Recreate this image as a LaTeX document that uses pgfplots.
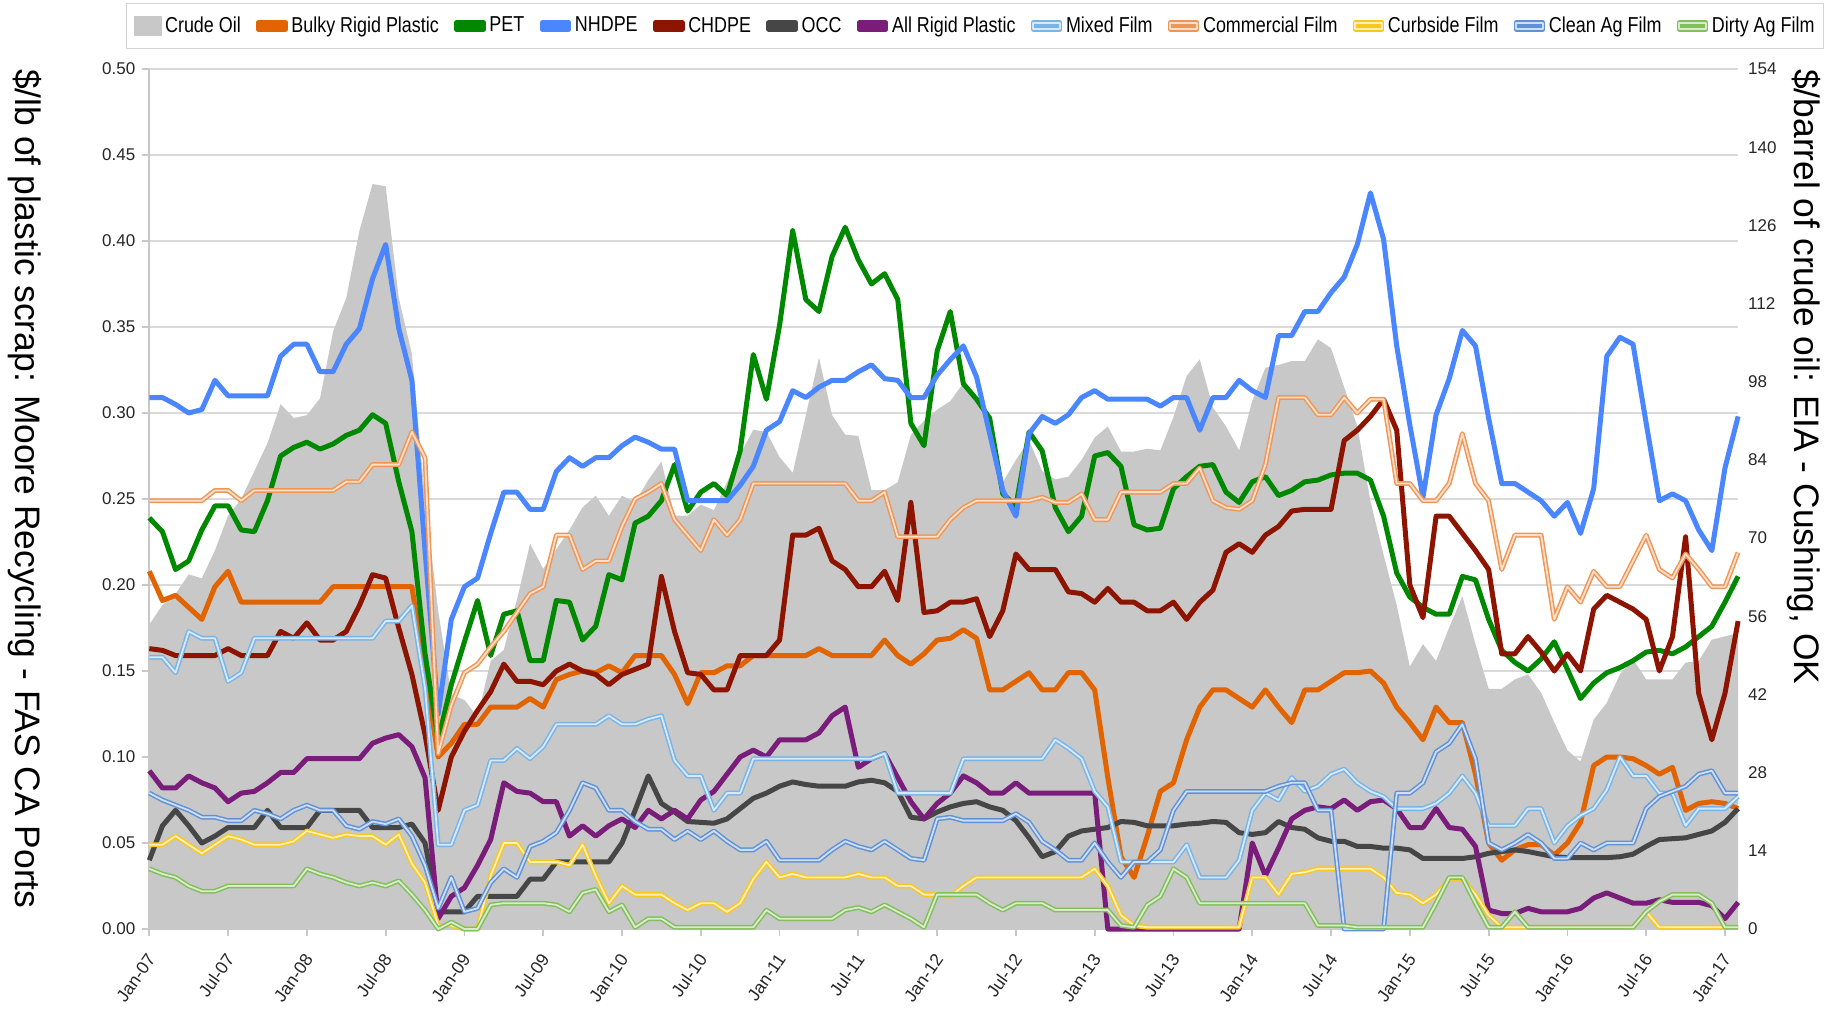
\documentclass[border=0pt]{standalone}
\usepackage{pgfplots}
\usepackage{pgfplotstable}
\pgfplotsset{compat=1.18}
\usepackage{fontspec}
\setmainfont{Liberation Sans}
\newfontfamily\narrowfont[FakeStretch=0.83]{Liberation Sans}
\newcommand\ticksize{\fontsize{8.5}{10}\selectfont}

\definecolor{crude}{RGB}{200,200,200}
\definecolor{bulky}{RGB}{226,100,0}
\definecolor{pet}{RGB}{0,136,0}
\definecolor{nhdpe}{RGB}{74,134,255}
\definecolor{chdpe}{RGB}{140,20,0}
\definecolor{occ}{RGB}{70,70,70}
\definecolor{allrig}{RGB}{122,28,122}
\definecolor{mixed}{RGB}{120,180,230}
\definecolor{comm}{RGB}{240,150,85}
\definecolor{curb}{RGB}{248,200,30}
\definecolor{clean}{RGB}{95,145,215}
\definecolor{dirty}{RGB}{130,190,90}
\definecolor{gridgray}{RGB}{218,218,218}
\definecolor{axisgray}{RGB}{200,200,200}

\pgfplotstableread{
m crude bulky pet nhdpe chdpe occ allrig mixed comm curb clean dirty
0 54.5 0.208 0.239 0.309 0.163 0.040 0.092 0.158 0.249 0.049 0.079 0.035
1 58 0.191 0.231 0.309 0.162 0.060 0.082 0.158 0.249 0.049 0.075 0.032
2 60 0.194 0.209 0.305 0.159 0.069 0.082 0.149 0.249 0.054 0.072 0.030
3 63.5 0.187 0.214 0.300 0.159 0.060 0.089 0.173 0.249 0.049 0.069 0.025
4 62.8 0.180 0.232 0.302 0.159 0.050 0.085 0.169 0.249 0.044 0.065 0.022
5 67.8 0.199 0.246 0.319 0.159 0.054 0.082 0.169 0.255 0.049 0.065 0.022
6 74 0.208 0.246 0.310 0.163 0.059 0.074 0.144 0.255 0.054 0.063 0.025
7 77 0.190 0.232 0.310 0.159 0.059 0.079 0.149 0.249 0.052 0.063 0.025
8 82 0.190 0.231 0.310 0.159 0.059 0.080 0.169 0.255 0.049 0.069 0.025
9 87 0.190 0.249 0.310 0.159 0.069 0.085 0.169 0.255 0.049 0.067 0.025
10 94 0.190 0.275 0.333 0.173 0.059 0.091 0.169 0.255 0.049 0.064 0.025
11 91.5 0.190 0.280 0.340 0.169 0.059 0.091 0.169 0.255 0.051 0.069 0.025
12 92 0.190 0.283 0.340 0.178 0.059 0.099 0.169 0.255 0.057 0.072 0.035
13 95 0.190 0.279 0.324 0.168 0.069 0.099 0.169 0.255 0.055 0.069 0.032
14 107 0.199 0.282 0.324 0.168 0.069 0.099 0.169 0.255 0.053 0.069 0.030
15 113 0.199 0.287 0.340 0.173 0.069 0.099 0.169 0.260 0.055 0.060 0.027
16 125 0.199 0.290 0.349 0.188 0.069 0.099 0.169 0.260 0.054 0.058 0.025
17 133.4 0.199 0.299 0.378 0.206 0.059 0.108 0.169 0.270 0.054 0.0625 0.027
18 133 0.199 0.294 0.398 0.204 0.059 0.111 0.179 0.270 0.049 0.061 0.025
19 113 0.199 0.260 0.349 0.175 0.059 0.113 0.179 0.270 0.055 0.064 0.028
20 103 0.199 0.231 0.319 0.148 0.061 0.106 0.188 0.289 0.038 0.054 0.020
21 77 0.150 0.160 0.220 0.113 0.050 0.088 0.140 0.274 0.027 0.037 0.011
22 57 0.100 0.110 0.125 0.069 0.010 0.006 0.049 0.102 0.002 0.012 0.000
23 42 0.108 0.142 0.180 0.100 0.010 0.019 0.049 0.130 0.002 0.030 0.004
24 41 0.119 0.167 0.199 0.115 0.010 0.024 0.069 0.149 0.000 0.010 0.000
25 38 0.119 0.191 0.204 0.127 0.019 0.037 0.072 0.154 0.000 0.012 0.000
26 48 0.129 0.159 0.230 0.138 0.019 0.052 0.098 0.164 0.031 0.027 0.014
27 50 0.129 0.183 0.254 0.154 0.019 0.085 0.098 0.173 0.050 0.035 0.015
28 59 0.129 0.185 0.254 0.144 0.019 0.080 0.105 0.184 0.050 0.030 0.015
29 69 0.134 0.156 0.244 0.144 0.029 0.079 0.099 0.195 0.039 0.048 0.015
30 64.5 0.129 0.156 0.244 0.142 0.029 0.074 0.106 0.199 0.039 0.051 0.015
31 68 0.145 0.191 0.266 0.150 0.039 0.074 0.119 0.229 0.039 0.056 0.014
32 71.5 0.148 0.190 0.274 0.154 0.039 0.054 0.119 0.229 0.037 0.069 0.010
33 75.5 0.150 0.168 0.269 0.150 0.039 0.060 0.119 0.209 0.049 0.085 0.021
34 77.6 0.149 0.176 0.274 0.148 0.039 0.054 0.119 0.214 0.031 0.082 0.023
35 74 0.153 0.206 0.274 0.142 0.039 0.060 0.124 0.214 0.015 0.069 0.010
36 77.6 0.149 0.203 0.281 0.148 0.050 0.064 0.119 0.234 0.025 0.069 0.014
37 76.4 0.159 0.236 0.286 0.151 0.069 0.059 0.119 0.250 0.020 0.0625 0.001
38 80.4 0.159 0.240 0.283 0.154 0.089 0.069 0.122 0.254 0.020 0.058 0.006
39 83.7 0.159 0.249 0.279 0.205 0.073 0.064 0.124 0.259 0.020 0.058 0.006
40 74 0.148 0.270 0.279 0.173 0.068 0.069 0.098 0.238 0.015 0.052 0.001
41 74 0.131 0.243 0.249 0.149 0.0625 0.064 0.089 0.229 0.011 0.057 0.001
42 76 0.149 0.254 0.249 0.148 0.062 0.075 0.089 0.220 0.015 0.052 0.001
43 75 0.149 0.259 0.249 0.139 0.0615 0.080 0.069 0.238 0.015 0.057 0.001
44 80 0.153 0.252 0.249 0.139 0.064 0.090 0.079 0.229 0.010 0.051 0.001
45 85 0.153 0.278 0.258 0.159 0.070 0.100 0.079 0.238 0.015 0.046 0.001
46 89.4 0.159 0.334 0.269 0.159 0.076 0.104 0.099 0.259 0.029 0.046 0.001
47 89 0.159 0.308 0.290 0.159 0.079 0.100 0.099 0.259 0.039 0.051 0.011
48 84.5 0.159 0.351 0.295 0.168 0.083 0.110 0.099 0.259 0.030 0.040 0.006
49 81.7 0.159 0.406 0.313 0.229 0.0855 0.110 0.099 0.259 0.032 0.040 0.006
50 92 0.159 0.366 0.309 0.229 0.084 0.110 0.099 0.259 0.030 0.040 0.006
51 102.3 0.163 0.359 0.315 0.233 0.083 0.114 0.099 0.259 0.030 0.040 0.006
52 92 0.159 0.391 0.319 0.214 0.083 0.124 0.099 0.259 0.030 0.046 0.006
53 88.5 0.159 0.408 0.319 0.209 0.083 0.129 0.099 0.259 0.030 0.051 0.011
54 88.3 0.159 0.389 0.324 0.199 0.0855 0.094 0.099 0.249 0.032 0.048 0.0125
55 78.6 0.159 0.375 0.328 0.199 0.0865 0.099 0.099 0.249 0.030 0.046 0.010
56 78.6 0.168 0.381 0.320 0.208 0.085 0.102 0.102 0.254 0.030 0.051 0.014
57 80 0.159 0.366 0.319 0.191 0.080 0.088 0.079 0.228 0.025 0.046 0.010
58 88.5 0.154 0.294 0.309 0.248 0.065 0.074 0.079 0.228 0.025 0.041 0.006
59 91 0.160 0.281 0.309 0.184 0.064 0.064 0.079 0.228 0.020 0.040 0.001
60 93 0.168 0.336 0.322 0.185 0.068 0.073 0.079 0.228 0.020 0.064 0.020
61 94.5 0.169 0.359 0.331 0.190 0.071 0.079 0.079 0.238 0.019 0.065 0.020
62 97.8 0.174 0.317 0.339 0.190 0.073 0.089 0.099 0.245 0.025 0.063 0.020
63 95 0.169 0.308 0.321 0.192 0.074 0.085 0.099 0.249 0.030 0.063 0.020
64 90 0.139 0.297 0.288 0.170 0.071 0.079 0.099 0.249 0.030 0.063 0.015
65 80 0.139 0.253 0.255 0.185 0.069 0.079 0.099 0.249 0.030 0.063 0.011
66 84 0.144 0.246 0.240 0.218 0.063 0.085 0.099 0.249 0.030 0.067 0.015
67 87.5 0.149 0.289 0.288 0.209 0.053 0.079 0.099 0.249 0.030 0.062 0.015
68 82 0.139 0.278 0.298 0.209 0.042 0.079 0.099 0.251 0.030 0.051 0.015
69 80.5 0.139 0.245 0.294 0.209 0.045 0.079 0.110 0.248 0.030 0.046 0.011
70 81 0.149 0.231 0.299 0.196 0.054 0.079 0.105 0.248 0.030 0.040 0.011
71 84 0.149 0.240 0.309 0.195 0.057 0.079 0.099 0.253 0.030 0.040 0.011
72 88 0.139 0.275 0.313 0.190 0.058 0.079 0.080 0.238 0.035 0.050 0.011
73 90 0.088 0.277 0.308 0.198 0.059 0.000 0.071 0.238 0.025 0.039 0.011
74 85.5 0.042 0.269 0.308 0.190 0.0625 0.000 0.039 0.254 0.008 0.030 0.002
75 85.5 0.030 0.235 0.308 0.190 0.062 0.000 0.039 0.254 0.002 0.039 0.001
76 86 0.054 0.232 0.308 0.185 0.060 0.000 0.039 0.254 0.001 0.039 0.014
77 85.7 0.080 0.233 0.304 0.185 0.060 0.000 0.039 0.254 0.001 0.046 0.019
78 91.7 0.085 0.256 0.309 0.190 0.060 0.000 0.039 0.259 0.001 0.069 0.035
79 99 0.110 0.263 0.309 0.180 0.061 0.000 0.049 0.259 0.001 0.080 0.030
80 102 0.129 0.269 0.290 0.190 0.0615 0.000 0.030 0.268 0.001 0.080 0.015
81 93.4 0.139 0.270 0.309 0.197 0.0625 0.000 0.030 0.249 0.001 0.080 0.015
82 90 0.139 0.254 0.309 0.219 0.062 0.000 0.030 0.245 0.001 0.080 0.015
83 85.7 0.134 0.248 0.319 0.224 0.056 0.000 0.040 0.244 0.001 0.080 0.015
84 94.6 0.129 0.260 0.313 0.219 0.055 0.050 0.069 0.249 0.030 0.080 0.015
85 100.5 0.139 0.263 0.309 0.229 0.056 0.031 0.079 0.270 0.030 0.080 0.015
86 101 0.129 0.252 0.345 0.234 0.0625 0.047 0.075 0.309 0.020 0.083 0.015
87 101.7 0.120 0.255 0.345 0.243 0.059 0.064 0.088 0.309 0.032 0.085 0.015
88 101.7 0.139 0.260 0.359 0.244 0.058 0.069 0.080 0.309 0.033 0.085 0.015
89 105.6 0.139 0.261 0.359 0.244 0.053 0.071 0.083 0.299 0.035 0.069 0.002
90 104 0.144 0.264 0.370 0.244 0.051 0.070 0.090 0.299 0.035 0.069 0.002
91 97 0.149 0.265 0.379 0.284 0.051 0.075 0.093 0.309 0.035 0.000 0.002
92 90 0.149 0.265 0.398 0.290 0.048 0.069 0.085 0.300 0.035 0.000 0.001
93 76.6 0.150 0.261 0.428 0.298 0.048 0.074 0.080 0.308 0.035 0.000 0.001
94 67 0.143 0.240 0.401 0.308 0.047 0.075 0.077 0.308 0.030 0.000 0.001
95 58 0.129 0.207 0.339 0.290 0.047 0.070 0.070 0.259 0.021 0.079 0.001
96 47 0.120 0.193 0.293 0.200 0.046 0.059 0.070 0.259 0.020 0.079 0.001
97 51 0.110 0.187 0.251 0.181 0.041 0.059 0.070 0.249 0.015 0.085 0.001
98 48 0.129 0.183 0.299 0.240 0.041 0.070 0.073 0.249 0.020 0.103 0.015
99 54 0.120 0.183 0.320 0.240 0.041 0.059 0.079 0.259 0.029 0.108 0.030
100 59.6 0.120 0.205 0.348 0.230 0.041 0.058 0.089 0.288 0.029 0.119 0.030
101 51 0.090 0.203 0.339 0.220 0.042 0.048 0.079 0.259 0.020 0.099 0.015
102 43 0.050 0.180 0.297 0.209 0.044 0.011 0.060 0.249 0.008 0.050 0.001
103 43 0.040 0.162 0.259 0.160 0.045 0.009 0.060 0.209 0.001 0.046 0.001
104 44.7 0.046 0.155 0.259 0.160 0.046 0.009 0.060 0.229 0.001 0.050 0.010
105 45.6 0.049 0.150 0.254 0.170 0.045 0.012 0.070 0.229 0.001 0.055 0.001
106 42.3 0.049 0.157 0.249 0.161 0.0435 0.010 0.070 0.229 0.001 0.050 0.001
107 37 0.043 0.167 0.240 0.150 0.042 0.010 0.050 0.180 0.001 0.041 0.001
108 32 0.050 0.151 0.248 0.160 0.0415 0.010 0.060 0.199 0.001 0.041 0.001
109 30 0.062 0.134 0.230 0.150 0.0415 0.012 0.066 0.190 0.001 0.050 0.001
110 37.5 0.095 0.143 0.256 0.186 0.0415 0.018 0.070 0.208 0.001 0.046 0.001
111 40.5 0.100 0.149 0.333 0.194 0.0415 0.021 0.081 0.199 0.001 0.050 0.001
112 45.6 0.100 0.152 0.344 0.190 0.042 0.018 0.100 0.199 0.001 0.050 0.001
113 48.3 0.099 0.156 0.340 0.186 0.0435 0.015 0.089 0.214 0.001 0.050 0.001
114 44.7 0.095 0.161 0.294 0.180 0.048 0.015 0.089 0.229 0.010 0.070 0.010
115 44.7 0.090 0.162 0.249 0.150 0.052 0.017 0.079 0.209 0.001 0.077 0.016
116 44.7 0.094 0.160 0.253 0.170 0.0525 0.0155 0.079 0.204 0.001 0.080 0.020
117 47.7 0.069 0.164 0.249 0.228 0.053 0.0155 0.060 0.218 0.001 0.083 0.020
118 48 0.073 0.170 0.232 0.137 0.055 0.0155 0.070 0.209 0.001 0.090 0.020
119 51.8 0.074 0.176 0.220 0.110 0.057 0.0135 0.070 0.199 0.001 0.092 0.015
120 52.4 0.073 0.190 0.268 0.137 0.062 0.006 0.070 0.199 0.001 0.079 0.001
121 53 0.070 0.205 0.298 0.179 0.070 0.0155 0.077 0.219 0.001 0.079 0.001
}\data

\pgfplotsset{
  thick line/.style={line width=2.5pt, line join=round},
  dbl line/.style={line width=0.75pt, double distance=0.9pt, line join=round},
}

\begin{document}
\begin{tikzpicture}
\useasboundingbox (-74.65pt,-41.5pt) rectangle (840.85pt,464.5pt);

% crude oil (right axis) drawn first so it sits under the lines
\begin{axis}[
  at={(0pt,0pt)}, anchor=south west,
  scale only axis, width=794.4pt, height=430pt,
  xmin=0, xmax=121, ymin=0, ymax=154,
  axis x line=none, xtick=\empty,
  axis y line*=right,
  y axis line style={draw=none},
  ytick={0,14,28,42,56,70,84,98,112,126,140,154},
  major tick length=0pt,
  /pgf/number format/assume math mode=true,
  yticklabel style={font=\ticksize, text=black!85, xshift=1.5pt},
  extra y ticks={15.4,30.8,46.2,61.6,77,92.4,107.8,123.2,138.6,154},
  extra y tick labels={},
  extra y tick style={grid=major, major grid style={draw=gridgray, line width=0.9pt}},
  ylabel={\$/barrel of crude oil: EIA - Cushing, OK},
  every axis y label/.style={at={(axis description cs:1.0413,1.008)}, rotate=-90, anchor=west, font=\fontsize{17.7}{20}\selectfont},
]
\addplot[fill=crude, draw=none] table[x=m, y=crude] {\data} \closedcycle;
\end{axis}

\begin{axis}[
  at={(0pt,0pt)}, anchor=south west,
  scale only axis, width=794.4pt, height=430pt,
  xmin=0, xmax=121, ymin=0, ymax=0.5,
  clip=false,
  axis x line*=bottom, axis y line*=left,
  axis line style={draw=axisgray, line width=0.9pt, -},
  tick align=outside,
  major tick length=3.5pt,
  every tick/.style={draw=axisgray, line width=0.9pt},
  xtick={0,6,...,120},
  xticklabels={Jan-07,Jul-07,Jan-08,Jul-08,Jan-09,Jul-09,Jan-10,Jul-10,Jan-11,Jul-11,Jan-12,Jul-12,Jan-13,Jul-13,Jan-14,Jul-14,Jan-15,Jul-15,Jan-16,Jul-16,Jan-17},
  xticklabel style={yshift=-7pt, xshift=3pt, rotate=55, anchor=east, font=\fontsize{8.8}{10}\selectfont, text=black!85},
  ytick={0,0.05,0.1,0.15,0.2,0.25,0.3,0.35,0.4,0.45,0.5},
  /pgf/number format/assume math mode=true,
  yticklabel style={font=\ticksize, text=black!85, /pgf/number format/.cd, fixed, fixed zerofill, precision=2},
  ylabel={\$/lb of plastic scrap: Moore Recycling - FAS CA Ports},
  every axis y label/.style={at={(axis description cs:-0.0785,1.008)}, rotate=-90, anchor=west, font=\fontsize{17.7}{20}\selectfont},
  legend columns=-1,
  legend style={at={(axis description cs:0.5197,1.05)}, anchor=center,
    draw={rgb,255:red,212;green,212;blue,212}, fill=white,
    font=\narrowfont\fontsize{10.8}{13}\selectfont,
    inner xsep=3.5pt, inner ysep=4.5pt,
    nodes={inner xsep=0.8pt},
    /tikz/every odd column/.append style={column sep=1pt},
    /tikz/every even column/.append style={column sep=6.8pt}},
  legend image code/.code={\fill (0pt,-1.6pt) rectangle (13.4pt,1.6pt);},
]
\addlegendimage{legend image code/.code={\fill[crude] (0pt,-4.8pt) rectangle (13.4pt,4.8pt);}}
\addlegendentry{Crude Oil}
\addplot[color=bulky, thick line] table[x=m, y=bulky] {\data};
\addlegendentry{Bulky Rigid Plastic}
\addplot[color=pet, thick line] table[x=m, y=pet] {\data};
\addlegendentry{PET}
\addplot[color=nhdpe, thick line] table[x=m, y=nhdpe] {\data};
\addlegendentry{NHDPE}
\addplot[color=chdpe, thick line] table[x=m, y=chdpe] {\data};
\addlegendentry{CHDPE}
\addplot[color=occ, thick line] table[x=m, y=occ] {\data};
\addlegendentry{OCC}
\addplot[color=allrig, thick line] table[x=m, y=allrig] {\data};
\addlegendentry{All Rigid Plastic}
\addplot[color=mixed, dbl line, double=mixed!30!white] table[x=m, y=mixed] {\data};
\addlegendentry{Mixed Film}
\addplot[color=comm, dbl line, double=comm!30!white] table[x=m, y=comm] {\data};
\addlegendentry{Commercial Film}
\addplot[color=curb, dbl line, double=curb!30!white] table[x=m, y=curb] {\data};
\addlegendentry{Curbside Film}
\addplot[color=clean, dbl line, double=clean!30!white] table[x=m, y=clean] {\data};
\addlegendentry{Clean Ag Film}
\addplot[color=dirty, dbl line, double=dirty!30!white] table[x=m, y=dirty] {\data};
\addlegendentry{Dirty Ag Film}
\end{axis}
\end{tikzpicture}
\end{document}
